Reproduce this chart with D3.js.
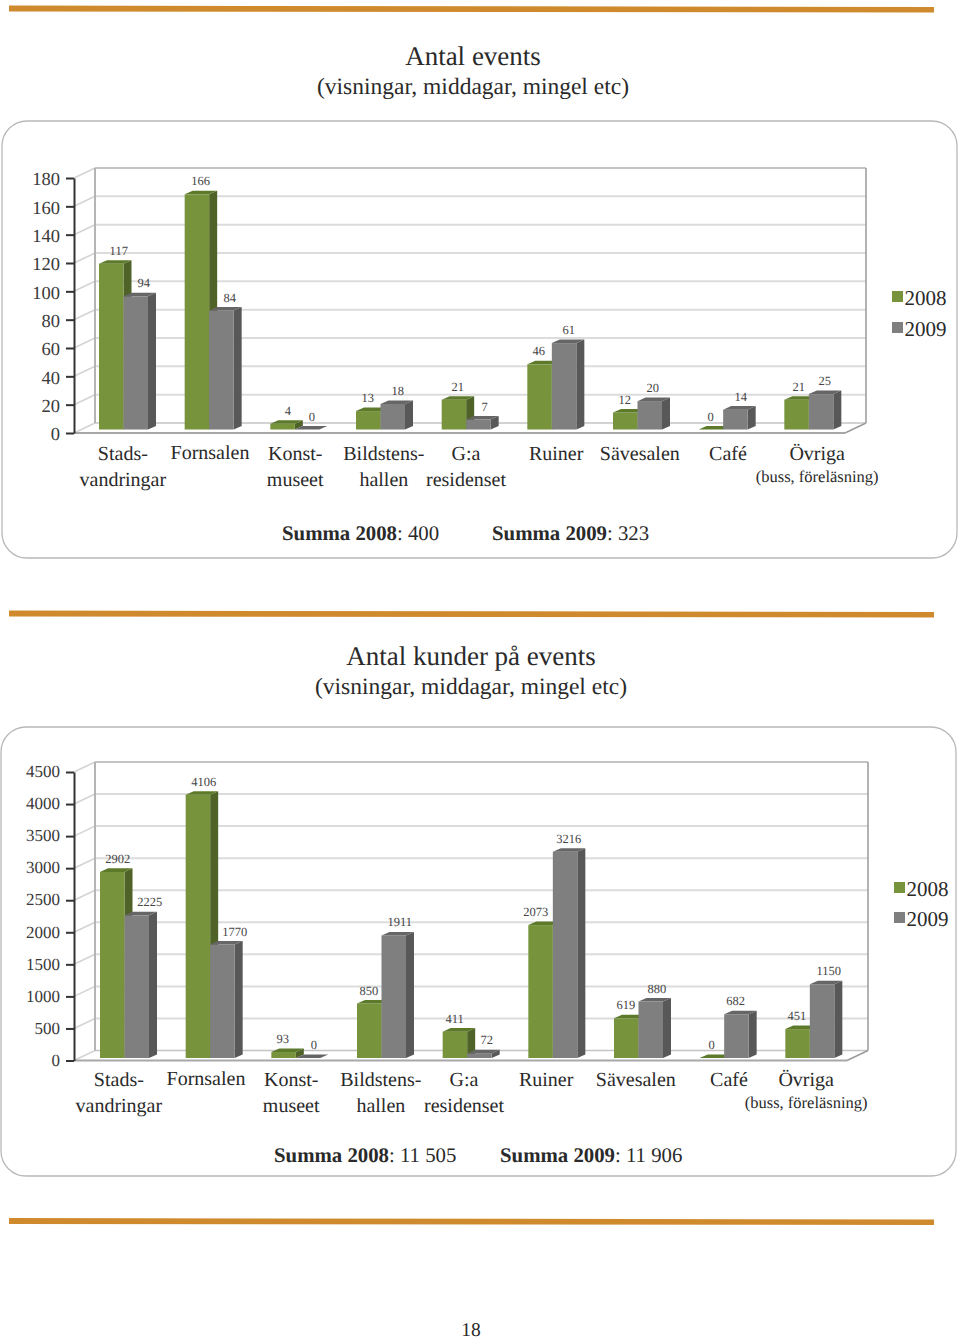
<!DOCTYPE html>
<html><head><meta charset="utf-8">
<style>html,body{margin:0;background:#fff}svg{display:block}text{font-family:"Liberation Serif",serif;fill:#2a2a2a;text-rendering:geometricPrecision}</style>
<script src="https://cdn.jsdelivr.net/npm/d3@7"></script></head><body><div id="c"></div>
<script>
const categories=["Stads-|vandringar","Fornsalen","Konst-|museet","Bildstens-|hallen","G:a|residenset","Ruiner","Sävesalen","Café","Övriga|(buss, föreläsning)"];
const seriesNames=["2008","2009"];
const events2008=[117,166,4,13,21,46,12,0,21];
const events2009=[94,84,0,18,7,61,20,14,25];
const customers2008=[2902,4106,93,850,411,2073,619,0,451];
const customers2009=[2225,1770,0,1911,72,3216,880,682,1150];
const eventTicks=d3.range(0,181,20);
const customerTicks=d3.range(0,4501,500);
const titles1=["Antal events","(visningar, middagar, mingel etc)"];
const titles2=["Antal kunder på events","(visningar, middagar, mingel etc)"];
const summa1=[["Summa 2008",": 400"],["Summa 2009",": 323"]];
const summa2=[["Summa 2008",": 11 505"],["Summa 2009",": 11 906"]];
const pageNumber="18";

const colors={front:["#77933c","#7f7f7f"],side:["#4f6228","#585858"],top:["#5c7a2a","#666666"]};
const svg=d3.select("#c").append("svg").attr("width",960).attr("height",1340);

function rule(y){svg.append("path").attr("d",d3.line()([[9,y-3],[934,y-1.5],[934,y+4],[9,y+3]])+"Z").attr("fill","#d08a2e");}
rule(8.5);rule(613.5);rule(1221);

function drawChart(o){
  const g=svg.append("g");
  g.append("rect").attr("x",o.panel[0]).attr("y",o.panel[1]).attr("width",o.panel[2]).attr("height",o.panel[3]).attr("rx",25).attr("fill","#fff").attr("stroke","#b8b8b8").attr("stroke-width",1.3);
  g.append("text").attr("x",o.titleX).attr("y",o.titleY).attr("text-anchor","middle").attr("font-size",27).text(o.titles[0]);
  g.append("text").attr("x",o.titleX).attr("y",o.titleY+29).attr("text-anchor","middle").attr("font-size",23.5).text(o.titles[1]);

  const ax=74,rx=o.right,dx=21,dy=-10;
  const y=d3.scaleLinear().domain([0,o.ticks[o.ticks.length-1]]).range([o.y0,o.yTop]);
  const x=d3.scaleBand().domain(categories).range([ax,845]);
  const inner=d3.scaleBand().domain(seriesNames).range([0,49]);
  const shift=o.y0-o.barBase;
  // walls and grid
  o.ticks.forEach((t,i)=>{
    if(i>0)g.append("line").attr("x1",ax+dx).attr("x2",rx+dx).attr("y1",y(t)+dy).attr("y2",y(t)+dy).attr("stroke",i===o.ticks.length-1?"#c4c4c4":"#dcdcdc").attr("stroke-width",2);
    g.append("line").attr("x1",ax).attr("x2",ax+dx).attr("y1",y(t)).attr("y2",y(t)+dy).attr("stroke","#d4d4d4").attr("stroke-width",1.6);
  });
  g.append("line").attr("x1",ax+dx).attr("x2",rx+dx).attr("y1",y(0)+dy).attr("y2",y(0)+dy).attr("stroke","#c4c4c4").attr("stroke-width",1.6);
  g.append("line").attr("x1",ax+dx).attr("x2",ax+dx).attr("y1",y(0)+dy).attr("y2",o.yTop+dy).attr("stroke","#b4b4b4").attr("stroke-width",2);
  g.append("line").attr("x1",rx+dx).attr("x2",rx+dx).attr("y1",y(0)+dy).attr("y2",o.yTop+dy).attr("stroke","#9a9a9a").attr("stroke-width",1.5);
  g.append("line").attr("x1",ax).attr("x2",rx).attr("y1",y(0)).attr("y2",y(0)).attr("stroke","#a8a8a8").attr("stroke-width",2);
  g.append("line").attr("x1",rx).attr("x2",rx+dx).attr("y1",y(0)).attr("y2",y(0)+dy).attr("stroke","#9a9a9a").attr("stroke-width",1.4);

  // bars
  const line=d3.line();
  const barDx=8,barDy=-3.6,bw=inner.bandwidth();
  categories.forEach((c,i)=>{
    seriesNames.forEach((s,k)=>{
      const v=o.values[k][i];
      const x0=x(c)+o.barOffset+inner(s),x1=x0+bw,top=y(v)-shift,base=o.barBase;
      const bar=g.append("g").attr("class","bar");
      bar.append("path").attr("d",line([[x1,top],[x1+barDx,top+barDy],[x1+barDx,base+barDy],[x1,base]])+"Z").attr("fill",colors.side[k]);
      if(v>0)bar.append("rect").attr("x",x0).attr("y",top).attr("width",bw).attr("height",base-top).attr("fill",colors.front[k]);
      bar.append("path").attr("d",line([[x0,top],[x0+barDx,top+barDy],[x1+barDx,top+barDy],[x1,top]])+"Z").attr("fill",colors.top[k]);
      g.append("text").attr("x",x0+bw/2+o.labelDx[k][i]).attr("y",top-13+4).attr("text-anchor","middle").attr("font-size",12.5).attr("opacity",0.99).attr("style","fill:#444").text(v);
    });
    // category labels
    const parts=c.split("|"),cx=x(c)+x.bandwidth()/2+o.catDx[i];
    parts.forEach((p,j)=>{
      const small=p.startsWith("(");
      const yy=o.catY+(small?22:j*26)-(parts.length===1&&c==="Fornsalen"?1:0);
      g.append("text").attr("x",cx).attr("y",yy).attr("text-anchor","middle").attr("font-size",small?16.5:20).text(p);
    });
  });

  // axis
  const axis=g.append("g").attr("transform",`translate(${ax},0)`).call(d3.axisLeft(y).tickValues(o.ticks).tickFormat(d3.format("d")).tickSize(8).tickPadding(6).tickSizeOuter(0));
  axis.selectAll("path").attr("stroke","#333").attr("stroke-width",2);
  axis.selectAll("line").attr("stroke","#333").attr("stroke-width",2);
  axis.selectAll("text").attr("font-size",o.tickFont).attr("font-family",'"Liberation Serif",serif').attr("dy",o.tickDy).attr("style","fill:#3a3a3a");

  // legend
  seriesNames.forEach((s,k)=>{
    const ly=o.legendY+k*o.legendStep;
    g.append("rect").attr("x",o.legendX).attr("y",ly-11).attr("width",11).attr("height",11).attr("fill",colors.front[k]);
    g.append("text").attr("x",o.legendX+12.5).attr("y",ly+2.5).attr("font-size",21).text(s);
  });
  // totals
  o.summa.forEach((p,k)=>{
    const t=g.append("text").attr("x",o.summaX[k]).attr("y",o.summaY).attr("font-size",20.8);
    t.append("tspan").attr("font-weight","bold").text(p[0]);
    t.append("tspan").text(p[1]);
  });
}

drawChart({panel:[2,121,955,437],titles:titles1,titleX:473,titleY:65,ticks:eventTicks,values:[events2008,events2009],
  y0:433,yTop:178,barBase:429.5,barOffset:25,right:845,tickFont:18.5,tickDy:"0.36em",
  labelDx:[[7.5,3.8,5.2,-.5,3.8,-.8,-.5,-.2,2.2],[8,8.3,4.7,5,6.3,4.7,3,5.3,3.7]],
  catDx:[6,7.5,7,10,6.5,11,9,11.5,15],catY:460,legendX:892,legendY:302,legendStep:31,summa:summa1,summaX:[282,492],summaY:540});
drawChart({panel:[1,727,955,449],titles:titles2,titleX:471,titleY:665,ticks:customerTicks,values:[customers2008,customers2009],
  y0:1060.5,yTop:772,barBase:1058,barOffset:26,right:847,tickFont:17,tickDy:"0.28em",
  labelDx:[[5.5,5.8,-.8,-.5,-.2,-4.8,-.5,-.2,-.8],[13,12.3,5.7,6,7.3,3.7,6,-.7,6.7]],
  catDx:[2,3.5,3,7,4.5,1,5,12.5,4],catY:1086,legendX:894,legendY:893,legendStep:30,summa:summa2,summaX:[274,500],summaY:1162});
svg.append("text").attr("x",471).attr("y",1335.5).attr("text-anchor","middle").attr("font-size",19.5).text(pageNumber);
</script></body></html>
